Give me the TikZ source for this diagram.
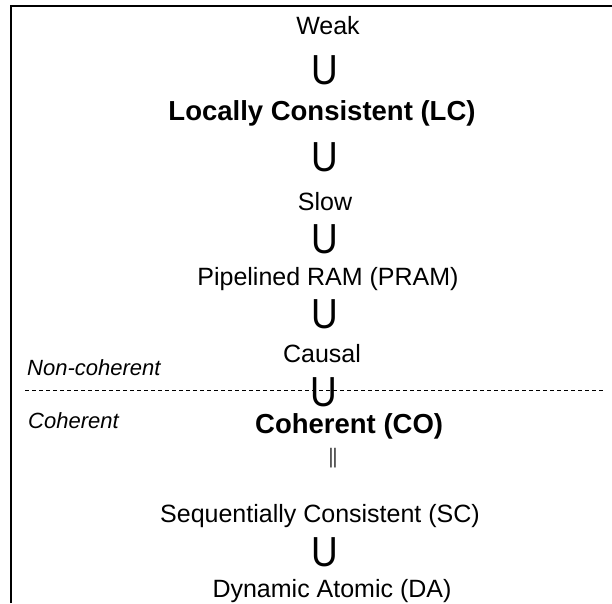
\documentclass[tikz,border=0pt]{standalone}
\usepackage{fontspec}
\setmainfont{Liberation Sans}
\begin{document}
\begin{tikzpicture}[x=1pt,y=-1pt,
  lbl/.style={inner sep=0pt,anchor=base,font=\fontsize{25}{27}\selectfont},
  blbl/.style={inner sep=0pt,anchor=base,font=\fontsize{27.5}{29}\selectfont\bfseries},
  sub/.style={inner sep=0pt,anchor=base,xscale=0.88,font=\fontsize{42}{44}\selectfont},
  side/.style={inner sep=0pt,anchor=base west,font=\fontsize{22}{24}\selectfont\itshape},
  frame/.style={line width=2pt},
  divider/.style={line width=1.5pt,dash pattern=on 3.5pt off 3.5pt}]
\useasboundingbox (0,0) rectangle (612,603);
\draw[frame] (11,603) -- (11,6.3) -- (612,6.3);
\node[lbl] (weak) at (328,34) {Weak};
\node[sub] (u1) at (325,84.5) {U};
\node[blbl] (lc) at (322,120) {Locally Consistent (LC)};
\node[sub] (u2) at (325,171) {U};
\node[lbl] (slow) at (325,210) {Slow};
\node[sub] (u3) at (325,253) {U};
\node[lbl] (pram) at (328,285) {Pipelined RAM (PRAM)};
\node[sub] (u4) at (325,328.5) {U};
\node[lbl] (causal) at (322,362) {Causal};
\node[side] (noncoh) at (27,375) {Non-coherent};
\coordinate (dl) at (25,390.7);
\coordinate (dr) at (606,390.7);
\draw[divider] (dl) -- (dr);
\node[sub] (u5) at (324,406) {U};
\node[side] (coh) at (28,428) {Coherent};
\node[blbl,anchor=base west] (co) at (255,433) {Coherent (CO)};
\node[inner sep=0pt,anchor=base,yscale=1.4,font=\fontsize{15}{16}\selectfont] (eq) at (333,463.5) {||};
\node[lbl] (sc) at (320,522) {Sequentially Consistent (SC)};
\node[sub] (u6) at (325,566) {U};
\node[lbl] (da) at (332,597) {Dynamic Atomic (DA)};
\end{tikzpicture}
\end{document}
